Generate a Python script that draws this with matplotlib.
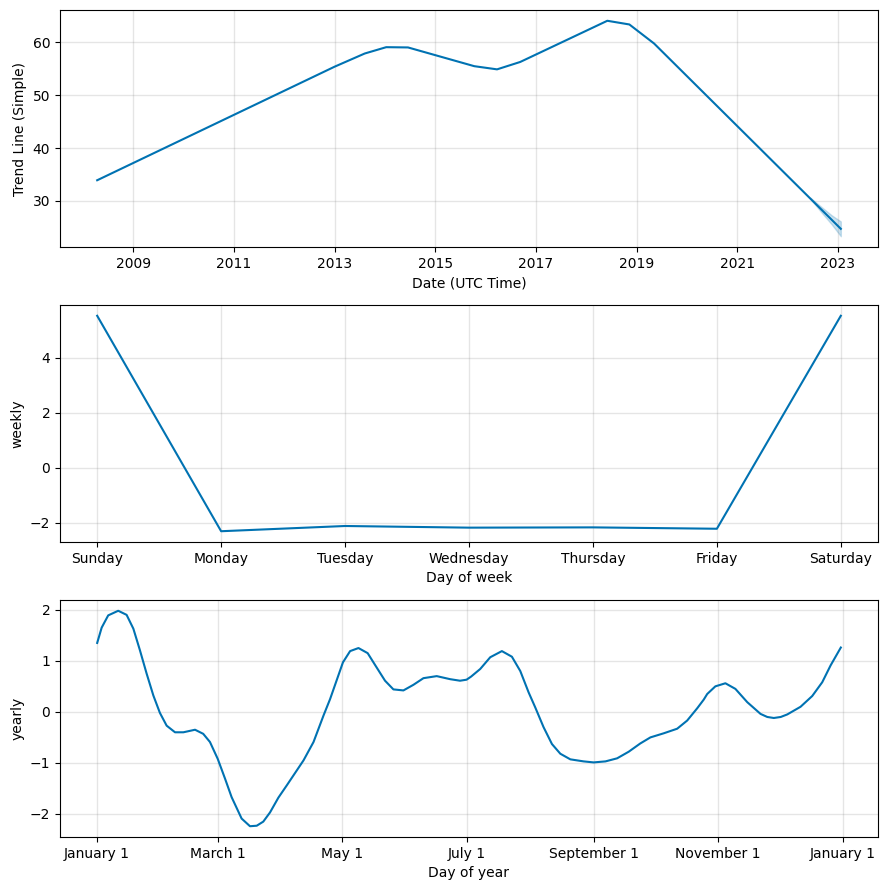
"""
Prophet-style component plot: trend, weekly and yearly seasonality.
"""
import pandas as pd
import matplotlib
matplotlib.use('Agg')
import matplotlib.pyplot as plt
import matplotlib.dates as mdates
from matplotlib.ticker import FuncFormatter

# trend (changepoints)
trend_dates = ['2008-04-15', '2013-01-01', '2013-08-08', '2014-01-11', '2014-06-18',
               '2015-10-12', '2016-03-25', '2016-09-09', '2018-06-03', '2018-11-10',
               '2019-05-08', '2023-01-22']
trend_vals = [33.9, 55.4, 57.9, 59.1, 59.05, 55.5, 54.9, 56.3, 64.1, 63.4, 59.8, 24.7]

# uncertainty band on the forecast end of the trend
band_dates = ['2022-06-15', '2022-09-01', '2022-11-15', '2023-01-22']
band_lower = [30.4, 27.9, 25.6, 23.3]
band_upper = [30.6, 28.9, 27.3, 26.1]
tick_years = [2009, 2011, 2013, 2015, 2017, 2019, 2021, 2023]

# weekly seasonality
days_of_week = ['Sunday', 'Monday', 'Tuesday', 'Wednesday', 'Thursday', 'Friday', 'Saturday']
weekly_vals = [5.53, -2.30, -2.11, -2.17, -2.16, -2.21, 5.53]

# yearly seasonality (day of year, value)
yearly_days = [0, 2.2, 5.4, 10.3, 14.4, 17.7, 20.9, 24.2, 27.5, 30.7, 34.0, 38.1, 42.2,
               47.9, 51.9, 55.2, 59.0, 62.6, 65.8, 70.7, 74.8, 78.1, 81.3, 84.6, 88.7,
               92.8, 101.0, 105.9, 110.8, 114.0, 120.3, 123.8, 127.9, 132.4, 136.0,
               140.9, 145.0, 149.9, 154.8, 159.7, 166.2, 172.8, 177.6, 180.8, 183.0,
               187.5, 192.4, 198.1, 203.0, 207.1, 211.2, 214.4, 218.5, 222.6, 226.7,
               231.6, 238.1, 243.0, 248.8, 254.5, 260.2, 265.8, 270.8, 277.3, 283.9,
               288.8, 293.7, 296.9, 298.6, 302.6, 307.5, 312.4, 318.2, 324.7, 328.0,
               331.2, 334.6, 337.8, 344.3, 350.0, 354.9, 359.0, 364]
yearly_vals = [1.35, 1.65, 1.89, 1.98, 1.90, 1.63, 1.21, 0.75, 0.32, -0.02, -0.27, -0.40,
               -0.40, -0.35, -0.43, -0.59, -0.92, -1.31, -1.67, -2.09, -2.24, -2.23,
               -2.15, -1.97, -1.68, -1.44, -0.95, -0.59, -0.07, 0.25, 0.97, 1.19, 1.25,
               1.15, 0.92, 0.61, 0.44, 0.42, 0.53, 0.66, 0.70, 0.64, 0.61, 0.63, 0.69,
               0.84, 1.07, 1.19, 1.08, 0.80, 0.38, 0.09, -0.30, -0.63, -0.82, -0.93,
               -0.97, -0.99, -0.97, -0.91, -0.78, -0.62, -0.50, -0.42, -0.33, -0.17,
               0.07, 0.24, 0.35, 0.50, 0.56, 0.45, 0.19, -0.04, -0.10, -0.12, -0.10,
               -0.05, 0.10, 0.31, 0.58, 0.91, 1.26]

LINE_C = '#0072B2'
W, H = 886, 890

fig = plt.figure(figsize=(W / 100, H / 100), dpi=100)

def add_ax(top, bottom, left=60, right=878):
    return fig.add_axes([left / W, 1 - bottom / H, (right - left) / W, (bottom - top) / H])

def style(ax):
    ax.grid(True, which='major', c='gray', ls='-', lw=1, alpha=0.2)

# trend
ax = add_ax(10, 247)
ax.plot(pd.to_datetime(trend_dates), trend_vals, ls='-', c=LINE_C)
ax.fill_between(pd.to_datetime(band_dates), band_lower, band_upper, color=LINE_C, alpha=0.2)
ax.set_xticks([pd.Timestamp(f'{y}-01-01') for y in tick_years])
ax.xaxis.set_major_formatter(mdates.DateFormatter('%Y'))
ax.set_xlabel('Date (UTC Time)')
ax.set_ylabel('Trend Line (Simple)')
style(ax)

# weekly
ax = add_ax(305, 542)
ax.plot(range(len(days_of_week)), weekly_vals, ls='-', c=LINE_C)
ax.set_xticks(range(len(days_of_week)))
ax.set_xticklabels(days_of_week)
ax.set_xlabel('Day of week')
ax.set_ylabel('weekly')
style(ax)

# yearly
ax = add_ax(600, 837)
ydates = pd.Timestamp('2017-01-01') + pd.to_timedelta(yearly_days, unit='D')
ax.plot(ydates, yearly_vals, ls='-', c=LINE_C)
ax.xaxis.set_major_locator(mdates.MonthLocator(bymonth=[1, 3, 5, 7, 9, 11]))
ax.xaxis.set_major_formatter(FuncFormatter(
    lambda x, pos=None: '{dt:%B} {dt.day}'.format(dt=mdates.num2date(x))))
ax.set_xlabel('Day of year')
ax.set_ylabel('yearly')
style(ax)

plt.savefig('out.png', dpi=100)
